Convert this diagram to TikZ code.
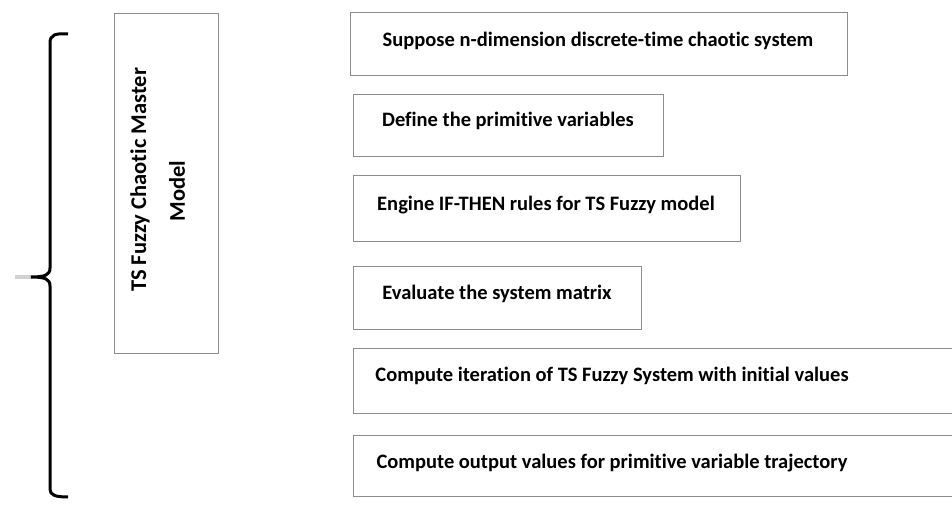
\documentclass[tikz,border=0pt]{standalone}
\usepackage{fontspec}
\setmainfont{Carlito}[Ligatures=NoCommon]
\begin{document}
\begin{tikzpicture}[x=1pt,y=-1pt,
  box/.style={draw=black!45, line width=1.4pt, anchor=north west, inner sep=0, fill=white},
  lbl/.style={font=\bfseries\fontsize{20.5}{24}\selectfont, inner sep=0, text=black},
  mlbl/.style={font=\bfseries\fontsize{22.5}{27}\selectfont, inner sep=0, text=black, rotate=90},
  brace/.style={line width=3pt, draw=black}]
\useasboundingbox (0,0) rectangle (952,518);
% left box
\node[box, minimum width=104pt, minimum height=340pt] (m) at (114,13) {};
\node[mlbl] (m1) at (140,180) {TS Fuzzy Chaotic Master};
\node[mlbl] (m2) at (177,191) {Model};
% steps
\node[box, minimum width=497pt, minimum height=63pt] (b1) at (350,12) {};
\node[box, minimum width=310pt, minimum height=62pt] (b2) at (353,94) {};
\node[box, minimum width=387pt, minimum height=66pt] (b3) at (353,175) {};
\node[box, minimum width=288pt, minimum height=63pt] (b4) at (353,266) {};
\node[box, minimum width=620pt, minimum height=65pt] (b5) at (353,348) {};
\node[box, minimum width=620pt, minimum height=61pt] (b6) at (353,435) {};
\node[lbl] (t1) at (598,41) {Suppose n-dimension discrete-time chaotic system};
\node[lbl] (t2) at (508,121) {Define the primitive variables};
\node[lbl] (t3) at (546,205) {Engine IF-THEN rules for TS Fuzzy model};
\node[lbl] (t4) at (497,294) {Evaluate the system matrix};
\node[lbl] (t5) at (612,376) {Compute iteration of TS Fuzzy System with initial values};
\node[lbl] (t6) at (612,463) {Compute output values for primitive variable trajectory};
% brace
\draw[gray!35, line width=4pt] (15,277) -- (32,277);
\draw[brace] (68,34) .. controls (55,33) and (50,35) .. (50,43) -- (50,268)
  .. controls (50,275) and (45,277) .. (31,277)
  .. controls (45,277) and (50,279) .. (50,286) -- (50,489)
  .. controls (50,495) and (55,497) .. (68,497);
\end{tikzpicture}
\end{document}
